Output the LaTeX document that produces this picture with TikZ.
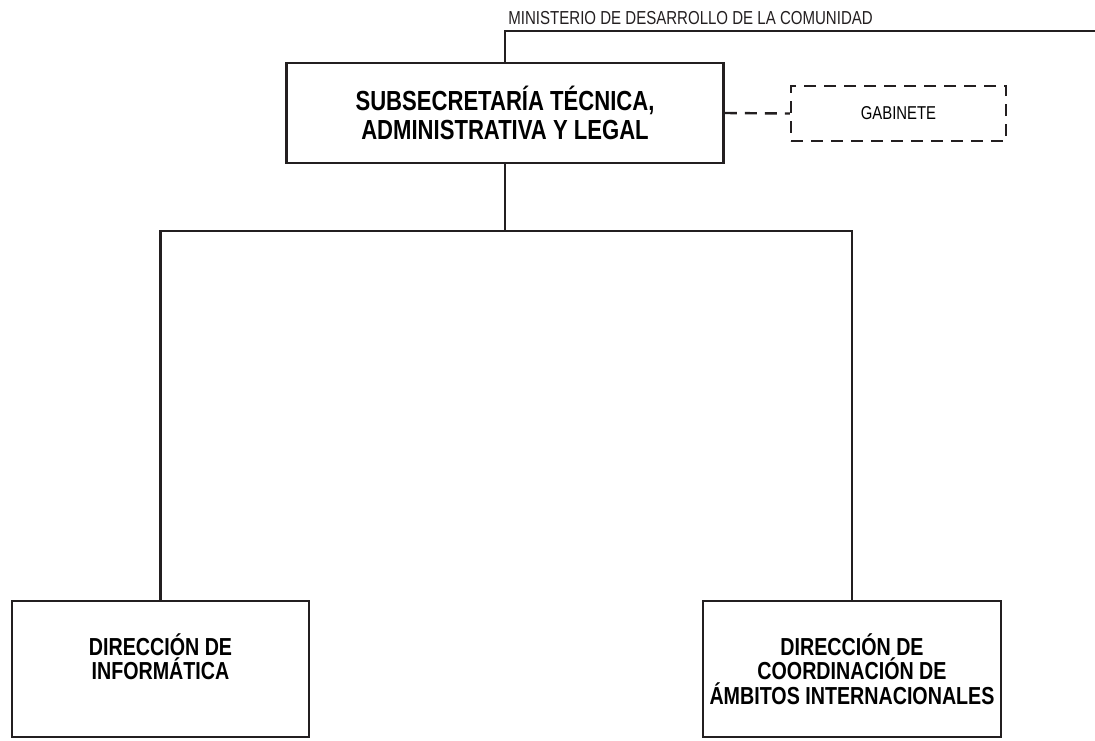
\documentclass[tikz,border=0pt]{standalone}
\usepackage{fontspec}
\setmainfont{Liberation Sans}[FakeStretch=0.8]
\definecolor{ink}{RGB}{35,31,32}
\begin{document}
\begin{tikzpicture}[x=0.5pt,y=-0.5pt,
    unidad/.style={draw=ink,line width=1.3pt,minimum width=148.5pt,minimum height=68pt,
        align=center,inner sep=0pt,font=\bfseries\fontsize{12.3}{12.2}\selectfont},
    enlace/.style={draw=ink,line width=1.1pt},
    apoyo/.style={draw=ink,line width=1.2pt,dash pattern=on 6pt off 4pt}]
    \useasboundingbox (0,0) rectangle (1095,740);
    % subsecretaria
    \node[unidad,minimum width=218.5pt,minimum height=50pt,font=\bfseries\fontsize{13.8}{14.5}\selectfont]
        (subsec) at (505,113) {SUBSECRETARÍA TÉCNICA,\\ADMINISTRATIVA Y LEGAL};
    \node[apoyo,minimum width=107.5pt,minimum height=27.5pt,inner sep=0pt,font=\fontsize{9.3}{11}\selectfont]
        (gabinete) at (898.5,113.5) {GABINETE};
    % direcciones
    \node[unidad] (dirinf) at (160.5,669) {DIRECCIÓN DE\\INFORMÁTICA\\\mbox{}};
    \node[unidad,minimum width=149pt] (dirint) at (852,669) {DIRECCIÓN DE\\COORDINACIÓN DE\\ÁMBITOS INTERNACIONALES};
    % ministerio
    \coordinate (arriba) at (1095,31);
    \node[anchor=base west,inner sep=0pt,text=ink,font=\fontsize{9.4}{11}\selectfont]
        (ministerio) at (508,24) {MINISTERIO DE DESARROLLO DE LA COMUNIDAD};
    \coordinate (barra) at (505,231);
    \draw[enlace] (subsec.north) |- (arriba);
    \draw[apoyo] (subsec.east) -- (gabinete.west);
    \draw[enlace] (subsec.south) -- (barra);
    \draw[enlace] (dirinf.north) |- (barra) -| (dirint.north);
\end{tikzpicture}
\end{document}
